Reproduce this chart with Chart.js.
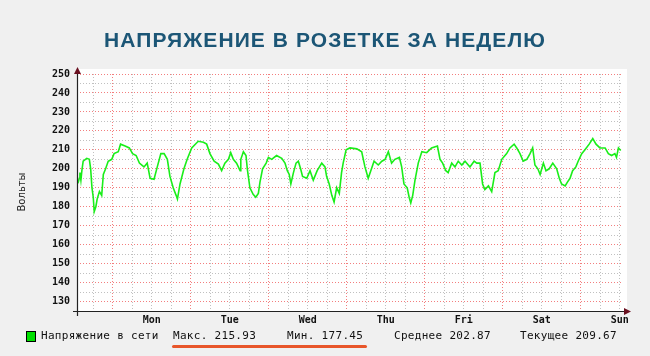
<!DOCTYPE html>
<html><head><meta charset="utf-8">
<script src="https://cdn.jsdelivr.net/npm/chart.js@4.4.1/dist/chart.umd.min.js"></script>
<style>
html,body{margin:0;padding:0;background:#f0f0f0;}
#wrap{position:relative;width:650px;height:356px;overflow:hidden;background:#f0f0f0;}
canvas{position:absolute;left:0;top:0;}
#title{position:absolute;left:325px;top:40px;white-space:nowrap;font:bold 21px "Liberation Sans",Arial,sans-serif;color:#1c5676;transform:translate(-50%,-50%);}
#ytitle{position:absolute;left:21px;top:192px;white-space:nowrap;font:10px "DejaVu Sans",sans-serif;color:#222;transform:translate(-50%,-50%) rotate(-90deg);}
.lg{position:absolute;top:329px;white-space:nowrap;font:11px "DejaVu Sans Mono",monospace;letter-spacing:0.3px;color:#111;line-height:14px;}
#sw{position:absolute;left:26px;top:331px;width:8px;height:9px;background:#00e000;border:1px solid #000;}
#ul{position:absolute;left:172px;top:345px;width:195px;height:3px;background:#e8562a;border-radius:2px;}
</style></head>
<body><div id="wrap">
<canvas id="c" width="650" height="356"></canvas>
<div id="title">НАПРЯЖЕНИЕ В РОЗЕТКЕ ЗА НЕДЕЛЮ</div>
<div id="ytitle">Вольты</div>
<div id="sw"></div>
<div class="lg" style="left:41px">Напряжение в сети</div>
<div class="lg" style="left:173px">Макс. 215.93</div>
<div class="lg" style="left:287px">Мин. 177.45</div>
<div class="lg" style="left:394px">Среднее 202.87</div>
<div class="lg" style="left:520px">Текущее 209.67</div>
<div id="ul"></div>
</div>
<script>
// Time axis: hours since start of window (Sun 13:00); midnight Mon = hour 11
const dayLabels = ['Mon','Tue','Wed','Thu','Fri','Sat','Sun'];
const firstMidnight = 11;
const yTickValues = [130,140,150,160,170,180,190,200,210,220,230,240,250];

const hours = [
  0,0.4,0.7,0.9,1.2,1.5,1.9,3.0,3.8,4.2,4.6,5.0,5.3,5.8,6.2,6.9,7.6,8.1,8.8,9.6,10.7,11.4,12.7,13.4,14.8,16.1,17.1,18.2,19.2,20.6,21.6,22.5,23.7,
  24.7,25.8,26.8,27.8,28.6,29.6,30.5,30.9,31.7,32.9,33.9,35.3,37.3,38.9,39.9,40.9,42.2,43.5,44.5,45.5,46.6,47.3,
  48.1,49.1,50.2,50.4,51.2,52.0,52.4,53.2,54.2,55.0,55.8,56.3,57.1,58.2,58.9,59.9,61.4,63.0,64.0,64.7,65.3,65.8,66.6,67.4,68.1,68.8,69.4,70.7,71.7,
  72.7,73.9,75.3,76.3,76.8,77.6,78.4,79.1,79.9,80.7,81.4,81.9,82.8,84.0,86.1,87.6,88.6,89.6,90.4,91.4,92.7,93.8,94.8,95.8,
  96.8,97.8,99.2,99.9,100.6,101.6,102.2,102.7,103.3,104.0,105.0,106.1,107.6,109.1,110.9,111.7,112.5,113.5,114.2,115.3,116.3,117.3,118.4,119.4,
  120.9,122.2,123.0,124.0,124.8,125.5,126.6,127.6,128.6,129.6,130.7,132.2,133.2,134.5,135.3,136.3,137.3,138.4,139.4,140.2,140.9,141.8,142.5,143.5,
  144.3,145.3,146.4,147.6,148.4,149.1,150.2,150.9,151.7,152.5,153.5,154.2,155.3,156.3,157.6,158.7,159.7,160.9,162.5,163.5,164.5,165.5,166.0,166.6,167.3
];
const volts = [
  192,193,195,198,194,199,204,205.5,205,200,190,185,177.45,180,184,188,186,197,200,204,205,208,209,213,212,211,208,207,203,201,203,195,194.5,
  201,208,208,205,196,190,186,184,192,200,205,211,214.5,214,213,208,204,202.5,199,203,205,208.5,
  205,203,199,205,209,207,200,190,186.5,185,187,193,200,203,206,205,207,205.5,203,199,197,192,198,203,204,200,196,195,199,
  194,199,203,201,196,192,186,182.5,190,187,198,203,210,211,210.5,209,201,195,199,204,202,204,205,209,
  203,205,206,201,192,190,185,182,186,194,203,209,208.5,211,212,205,203,199,198,203,201,204,202,204,
  201,204,203,203,192,189,191,188,198,199,205,208,211,213,211,208,204,205,208,211,202,200,197,203,
  199,200,203,200,195,192,191,193,195,199,201,204,208,210,213,215.93,213,211,211,208,207,208,206,211,209.67
];

const points = hours.map((h,i)=>({x:h,y:volts[i]}));
const xTicks = [];
for (let h = firstMidnight % 6; h <= 168; h += 6) xTicks.push(h);
const yTicks = [];
for (let v = 125; v <= 250; v += 5) yTicks.push(v);

const RED = 'rgba(235,40,40,0.6)';
const GRAY = 'rgba(140,140,140,0.55)';

const deco = {
  id:'deco',
  beforeDraw(chart){
    const {ctx, chartArea:a} = chart;
    ctx.save(); ctx.fillStyle='#ffffff';
    ctx.fillRect(a.left, a.top-5, a.right-a.left+4, a.bottom-a.top+5);
    ctx.restore();
  },
  afterDraw(chart){
    const {ctx, chartArea:a} = chart;
    ctx.save();
    ctx.strokeStyle='#222'; ctx.lineWidth=1.2;
    ctx.beginPath();
    ctx.moveTo(a.left-4, a.bottom+0.5); ctx.lineTo(a.right+3, a.bottom+0.5);
    ctx.moveTo(a.left+0.5, a.bottom+5); ctx.lineTo(a.left+0.5, a.top-2);
    ctx.stroke();
    ctx.fillStyle='#6a1020';
    ctx.beginPath();
    ctx.moveTo(a.right+8, a.bottom+0.5); ctx.lineTo(a.right+1, a.bottom-3); ctx.lineTo(a.right+1, a.bottom+4); ctx.closePath(); ctx.fill();
    ctx.beginPath();
    ctx.moveTo(a.left+0.5, a.top-7); ctx.lineTo(a.left-3, a.top); ctx.lineTo(a.left+4, a.top); ctx.closePath(); ctx.fill();
    ctx.restore();
  }
};

new Chart(document.getElementById('c'), {
  type:'line',
  data:{datasets:[{data:points, borderColor:'#19ee19', borderWidth:1.6, pointRadius:0, tension:0, fill:false}]},
  options:{
    responsive:false, animation:false,
    layout:{padding:{top:74,right:27,bottom:25,left:0}},
    plugins:{legend:{display:false}, title:{display:false}, tooltip:{enabled:false}},
    scales:{
      x:{type:'linear', min:0, max:168,
        afterBuildTicks:s=>{ s.ticks = xTicks.map(v=>({value:v})); },
        afterFit:s=>{ s.height = 20; },
        grid:{drawTicks:false, lineWidth:1,
          color:c=>{ const v=c.tick && c.tick.value; if (v===undefined) return 'transparent'; return ((v-firstMidnight)%24===0)?RED:GRAY; }},
        border:{display:false, dash:[1,2]},
        ticks:{autoSkip:false, maxRotation:0, padding:3, color:'#111',
          font:{family:'"DejaVu Sans Mono", monospace', size:10, weight:'bold'},
          callback:v=>{ const d=(v-firstMidnight-12)/24; return (Number.isInteger(d)&&d>=0&&d<dayLabels.length)?dayLabels[d]:''; }}
      },
      y:{type:'linear', min:125, max:250,
        afterBuildTicks:s=>{ s.ticks = yTicks.map(v=>({value:v})); },
        afterFit:s=>{ s.width = 77; },
        grid:{drawTicks:false, lineWidth:1,
          color:c=>{ const v=c.tick && c.tick.value; if (v===undefined||v===125) return 'transparent'; return (v%10===0)?RED:GRAY; }},
        border:{display:false, dash:[1,2]},
        ticks:{autoSkip:false, padding:7, color:'#111',
          font:{family:'"DejaVu Sans Mono", monospace', size:10, weight:'bold'},
          callback:v=> yTickValues.includes(v) ? String(v) : ''}
      }
    }
  },
  plugins:[deco]
});

// fit title width to the reference (letter spacing)
const t = document.getElementById('title');
const w = t.getBoundingClientRect().width;
const n = t.textContent.length;
t.style.letterSpacing = ((442 - w) / n).toFixed(2) + 'px';
</script>
</body></html>
